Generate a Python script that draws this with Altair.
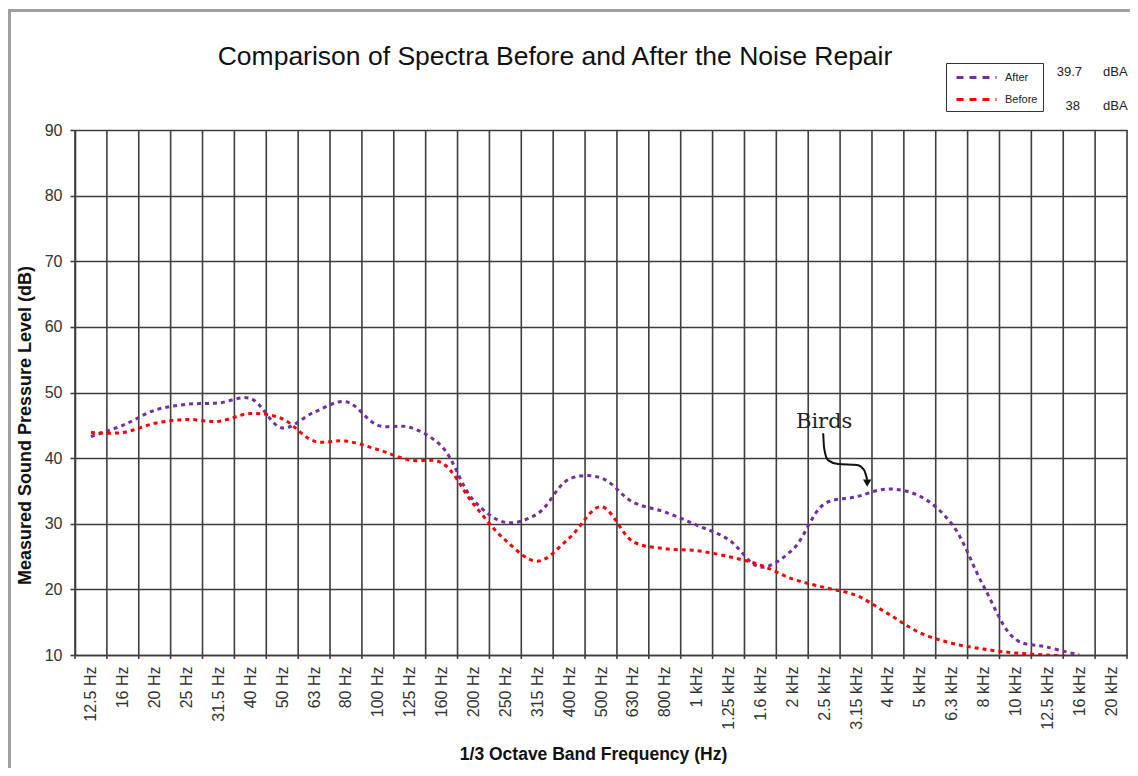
import altair as alt
import pandas as pd

# ---------------- data ----------------
bands = ["12.5 Hz", "16 Hz", "20 Hz", "25 Hz", "31.5 Hz", "40 Hz", "50 Hz", "63 Hz",
         "80 Hz", "100 Hz", "125 Hz", "160 Hz", "200 Hz", "250 Hz", "315 Hz", "400 Hz",
         "500 Hz", "630 Hz", "800 Hz", "1 kHz", "1.25 kHz", "1.6 kHz", "2 kHz", "2.5 kHz",
         "3.15 kHz", "4 kHz", "5 kHz", "6.3 kHz", "8 kHz", "10 kHz", "12.5 kHz", "16 kHz",
         "20 kHz"]
after = [43.3, 45.0, 47.3, 48.2, 48.4, 49.1, 44.6, 47.0, 48.6, 45.0, 44.7, 41.8,
         33.6, 30.2, 31.5, 36.8, 37.0, 33.3, 31.8, 29.8, 27.6, 23.4, 26.0, 33.0,
         34.1, 35.3, 34.2, 30.0, 20.5, 12.4, 11.2, 10.0, None]
before = [43.9, 43.9, 45.3, 45.9, 45.6, 46.8, 46.0, 42.6, 42.6, 41.3, 39.7, 39.3,
          33.0, 27.5, 24.3, 27.8, 32.6, 27.3, 26.2, 25.9, 25.0, 23.7, 21.6, 20.3,
          19.1, 16.3, 13.4, 11.8, 10.9, 10.3, 10.0, 9.7, None]
series_names = ["After", "Before"]
series_colors = ["#7030A0", "#FF0000"]
overall_dba = ["39.7", "38"]
y_ticks = [10, 20, 30, 40, 50, 60, 70, 80, 90]

# "Birds" annotation: label and arrow path in (band units, dB)
birds_label = "Birds"
birds_pos = [23.5, 45.5]
arrow_x = [23.47, 23.50, 23.62, 23.94, 24.53, 24.75, 24.85]
arrow_y = [43.8, 41.5, 39.7, 39.1, 38.95, 38.2, 36.7]
arrow_tip = [24.85, 36.2]

title_text = "Comparison of Spectra Before and After the Noise Repair"
FONT = "Liberation Sans"
GRID = "#3e3e3e"

# ---------------- tables ----------------
rows = []
for name, vals in zip(series_names, [after, before]):
    for i, v in enumerate(vals):
        if v is not None:
            rows.append({"series": name, "pos": i + 0.5, "band": bands[i], "value": v})
df = pd.DataFrame(rows)

grid_df = pd.DataFrame({"b": list(range(len(bands) + 1))})
grid_df["top"] = 90
grid_df["bot"] = 9.4

arrow_df = pd.DataFrame({"x": arrow_x, "y": arrow_y, "o": list(range(len(arrow_x)))})
tip_df = pd.DataFrame({"x": [arrow_tip[0]], "y": [arrow_tip[1]]})
birds_df = pd.DataFrame({"x": [birds_pos[0]], "y": [birds_pos[1]], "t": [birds_label]})
one = pd.DataFrame({"a": [0]})

label_expr = "[" + ",".join("'" + b + "'" for b in bands) + "][floor(datum.value)]"

xscale = alt.Scale(domain=[0, len(bands)], nice=False, zero=False)
yscale = alt.Scale(domain=[10, 90], nice=False, zero=False)

x_axis = alt.Axis(
    values=[i + 0.5 for i in range(len(bands))], labelExpr=label_expr,
    labelAngle=270, labelFont=FONT, labelFontSize=16, labelColor="#333",
    labelPadding=11, labelOverlap=False, labelFlush=False, labelBound=False,
    labelSeparation=0,
    ticks=False, grid=False, domainColor=GRID, domainWidth=1.6,
    title="1/3 Octave Band Frequency (Hz)", titleFont=FONT, titleFontSize=17.5,
    titleFontWeight="bold", titleColor="#111", titleX=518, titleY=99,
    titleBaseline="middle", titleAlign="center",
)
y_axis = alt.Axis(
    values=y_ticks, labelFont=FONT, labelFontSize=16, labelColor="#333",
    labelPadding=8, tickSize=5, tickColor=GRID, tickWidth=1.6,
    grid=True, gridColor=GRID, gridWidth=1.6, gridOpacity=1,
    domainColor=GRID, domainWidth=1.6,
    title="Measured Sound Pressure Level (dB)", titleFont=FONT, titleFontSize=18,
    titleFontWeight="bold", titleColor="#111", titleX=-50, titleY=295,
    titleBaseline="middle", titleAngle=270,
)

vgrid = alt.Chart(grid_df).mark_rule(color=GRID, strokeWidth=1.6).encode(
    x=alt.X("b:Q", scale=xscale, axis=x_axis),
    y=alt.Y("top:Q", scale=yscale, axis=y_axis),
    y2="bot:Q",
)

lines = alt.Chart(df).mark_line(
    strokeWidth=3, strokeDash=[4, 4], interpolate="catmull-rom", clip=True
).encode(
    x=alt.X("pos:Q", scale=xscale, axis=x_axis),
    y=alt.Y("value:Q", scale=yscale, axis=y_axis),
    color=alt.Color(
        "series:N",
        scale=alt.Scale(domain=series_names, range=series_colors),
        legend=alt.Legend(
            title=None, orient="none", legendX=871, legendY=-67,
            symbolType="M-0.5,0L4.5,0", symbolSize=256, symbolStrokeWidth=3,
            symbolDash=[7, 6], labelFont=FONT, labelFontSize=11, labelColor="#222",
            labelOffset=35, rowPadding=6, padding=5, strokeColor="#333",
            fillColor="white",
        ),
    ),
    detail="series:N",
    order="pos:Q",
)

arrow = alt.Chart(arrow_df).mark_line(color="#111", strokeWidth=2, interpolate="monotone").encode(
    x=alt.X("x:Q", scale=xscale, axis=x_axis), y=alt.Y("y:Q", scale=yscale, axis=y_axis), order="o:Q"
)
tip = alt.Chart(tip_df).mark_point(shape="triangle-down", size=70, filled=True, color="#111", opacity=1).encode(
    x=alt.X("x:Q", scale=xscale, axis=x_axis), y=alt.Y("y:Q", scale=yscale, axis=y_axis)
)
birds = alt.Chart(birds_df).mark_text(
    font="DejaVu Serif", fontSize=21, color="#222", baseline="middle", align="center"
).encode(x=alt.X("x:Q", scale=xscale, axis=x_axis), y=alt.Y("y:Q", scale=yscale, axis=y_axis), text="t:N")

title = alt.Chart(one).mark_text(
    font=FONT, fontSize=26.5, color="#111", align="center", baseline="alphabetic"
).encode(x=alt.value(480), y=alt.value(-65), text=alt.value(title_text))

dba_num1 = alt.Chart(one).mark_text(font=FONT, fontSize=13, color="#222", align="right", baseline="middle").encode(
    x=alt.value(1007), y=alt.value(-58), text=alt.value(overall_dba[0]))
dba_num2 = alt.Chart(one).mark_text(font=FONT, fontSize=13, color="#222", align="right", baseline="middle").encode(
    x=alt.value(1005), y=alt.value(-24), text=alt.value(overall_dba[1]))
dba_u1 = alt.Chart(one).mark_text(font=FONT, fontSize=13, color="#222", align="left", baseline="middle").encode(
    x=alt.value(1028), y=alt.value(-58), text=alt.value("dBA"))
dba_u2 = alt.Chart(one).mark_text(font=FONT, fontSize=13, color="#222", align="left", baseline="middle").encode(
    x=alt.value(1028), y=alt.value(-24), text=alt.value("dBA"))

frame = alt.Chart(one).mark_rect(fill="white", fillOpacity=0, stroke="#a0a0a0", strokeWidth=3).encode(
    x=alt.value(-65.5), y=alt.value(-119.5), x2=alt.value(1300), y2=alt.value(900)
)

chart = alt.layer(
    frame, vgrid, lines, arrow, tip, birds, title, dba_num1, dba_num2, dba_u1, dba_u2
).properties(
    width=1052, height=525,
    autosize=alt.AutoSizeParams(type="none"),
    padding={"left": 67, "top": 122, "right": 3, "bottom": 113},
).configure_view(stroke=None).configure(background="white").configure_axisX(
    labelOverlap=False, labelSeparation=0
)

chart.save("out.html", embed_options={"renderer": "svg", "actions": False})
